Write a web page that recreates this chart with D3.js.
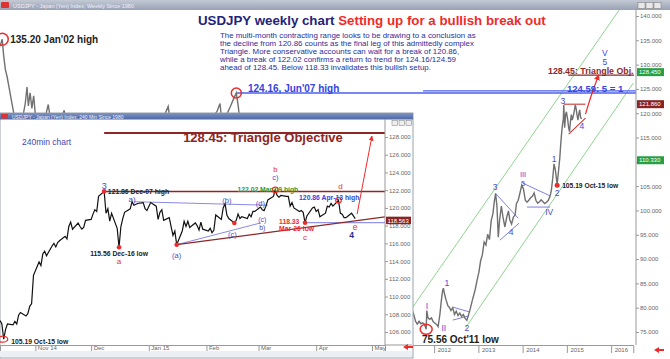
<!DOCTYPE html>
<html>
<head>
<meta charset="utf-8">
<script src="https://cdn.jsdelivr.net/npm/d3@7"></script>
<style>
  body { margin: 0; background: #fff; font-family: "Liberation Sans", Arial, sans-serif; }
  svg { display: block; }
  .tiny text { font-size: 6px; fill: #666; }
</style>
</head>
<body>
<div id="chart"></div>
<script>
/** DATA */
// weekly closes, decimal year
const weeklyYears = [2001.95, 2002.05, 2002.10, 2002.14, 2002.18, 2002.21, 2002.24, 2002.27, 2002.31, 2002.35, 2002.40, 2002.45, 2002.50, 2002.56, 2002.63, 2002.70, 2002.76, 2002.80, 2002.83, 2002.87, 2002.91, 2002.95, 2002.99, 2003.06, 2003.14, 2003.22, 2003.28, 2003.34, 2003.42, 2003.52, 2003.60, 2003.64, 2003.70, 2003.78, 2003.90, 2004.05, 2004.20, 2004.38, 2004.55, 2004.75, 2004.95, 2005.15, 2005.35, 2005.55, 2005.75, 2005.90, 2005.99, 2006.08, 2006.25, 2006.40, 2006.55, 2006.75, 2006.95, 2007.10, 2007.16, 2007.22, 2007.30, 2007.40, 2007.47, 2007.53, 2007.58, 2007.64, 2007.75, 2007.88, 2008.00, 2008.15, 2008.22, 2008.35, 2008.50, 2008.62, 2008.78, 2008.95, 2009.10, 2009.30, 2009.50, 2009.70, 2009.90, 2010.05, 2010.25, 2010.45, 2010.65, 2010.85, 2011.00, 2011.15, 2011.21, 2011.28, 2011.40,
  2011.50, 2011.54, 2011.58, 2011.62, 2011.66, 2011.70, 2011.74, 2011.78, 2011.82, 2011.835, 2011.86, 2011.90, 2011.94, 2011.98, 2012.02, 2012.06, 2012.09, 2012.13, 2012.16, 2012.19, 2012.21, 2012.24, 2012.27, 2012.31, 2012.35, 2012.38, 2012.42, 2012.46, 2012.50, 2012.54, 2012.58, 2012.62, 2012.66, 2012.70, 2012.74, 2012.78, 2012.82, 2012.86, 2012.89, 2012.93, 2012.97, 2013.01, 2013.05, 2013.09, 2013.13, 2013.17, 2013.21, 2013.25, 2013.29, 2013.33, 2013.36, 2013.39, 2013.42, 2013.45, 2013.48, 2013.52, 2013.56, 2013.60, 2013.64, 2013.68, 2013.71, 2013.75, 2013.79, 2013.83, 2013.86, 2013.90, 2013.94, 2013.98, 2014.02, 2014.06, 2014.10, 2014.14, 2014.18, 2014.22, 2014.26, 2014.30, 2014.34, 2014.38, 2014.42, 2014.46, 2014.50, 2014.54, 2014.58, 2014.62, 2014.65, 2014.68, 2014.71, 2014.74, 2014.78, 2014.81, 2014.84, 2014.86, 2014.88, 2014.90, 2014.92, 2014.93, 2014.95, 2014.97, 2014.99, 2015.02, 2015.04, 2015.06, 2015.08, 2015.10, 2015.12, 2015.14, 2015.17, 2015.19, 2015.21, 2015.23, 2015.25, 2015.27, 2015.29, 2015.31, 2015.33];
const weeklyClose = [126.5, 131.0, 132.5, 131.0, 133.8, 134.4, 135.2, 132.0, 129.0, 127.5, 125.0, 122.5, 120.0, 117.5, 116.0, 119.0, 122.0, 125.4, 121.5, 124.2, 121.0, 123.6, 119.5, 117.5, 118.8, 119.5, 121.8, 118.0, 116.5, 118.5, 119.5, 120.6, 117.0, 111.0, 108.5, 106.5, 108.0, 111.5, 110.5, 106.5, 103.0, 105.0, 108.0, 112.0, 114.0, 119.5, 121.4, 115.5, 117.5, 110.5, 116.5, 118.0, 118.5, 120.5, 122.0, 117.0, 119.5, 121.5, 123.0, 124.16, 121.0, 114.0, 115.5, 110.5, 109.0, 102.5, 97.5, 104.0, 107.5, 109.5, 96.0, 88.0, 93.0, 98.5, 95.0, 90.0, 87.0, 91.5, 93.5, 90.0, 85.0, 81.5, 82.5, 83.0, 77.5, 84.5, 80.5,
  79.5, 78.6, 77.2, 76.6, 77.2, 76.7, 76.9, 76.6, 75.56, 79.4, 77.9, 77.6, 77.9, 77.1, 76.8, 76.5, 76.1, 78.6, 81.2, 83.4, 84.0, 82.6, 81.6, 80.4, 80.0, 79.4, 80.0, 78.6, 79.3, 78.4, 78.9, 78.2, 78.6, 77.8, 77.4, 78.6, 79.9, 81.4, 82.4, 83.8, 85.6, 87.2, 89.6, 90.9, 93.5, 92.9, 95.1, 94.0, 97.9, 99.4, 101.8, 103.5, 100.8, 94.5, 98.1, 100.9, 98.4, 96.6, 98.6, 99.9, 98.1, 97.2, 98.6, 99.1, 101.4, 102.1, 103.6, 105.2, 104.4, 102.1, 101.7, 102.1, 102.6, 102.9, 103.6, 102.1, 101.5, 101.8, 102.2, 101.8, 101.4, 101.7, 102.1, 102.9, 104.2, 106.6, 109.6, 108.3, 105.4, 108.0, 110.8, 113.5, 115.8, 117.6, 118.8, 121.7, 117.0, 119.6, 120.3, 118.6, 117.0, 116.2, 118.2, 119.7, 118.6, 119.2, 120.6, 121.7, 120.9, 119.6, 118.6, 119.8, 120.7, 119.2, 118.8];

// 240 min chart, one close per session
const intradayDays = ["2014-10-13", "2014-10-14", "2014-10-15", "2014-10-16", "2014-10-17", "2014-10-20", "2014-10-21", "2014-10-22", "2014-10-23", "2014-10-24", "2014-10-27", "2014-10-28", "2014-10-29", "2014-10-30", "2014-10-31", "2014-11-03", "2014-11-04", "2014-11-05", "2014-11-06", "2014-11-07", "2014-11-10", "2014-11-11", "2014-11-12", "2014-11-13", "2014-11-14", "2014-11-17", "2014-11-18", "2014-11-19", "2014-11-20", "2014-11-21", "2014-11-24", "2014-11-25", "2014-11-26", "2014-11-27", "2014-11-28", "2014-12-01", "2014-12-02", "2014-12-03", "2014-12-04", "2014-12-05", "2014-12-08", "2014-12-09", "2014-12-10", "2014-12-11", "2014-12-12", "2014-12-15", "2014-12-16", "2014-12-17", "2014-12-18", "2014-12-19", "2014-12-22", "2014-12-23", "2014-12-24", "2014-12-26", "2014-12-29", "2014-12-30", "2014-12-31", "2015-01-02", "2015-01-05", "2015-01-06", "2015-01-07", "2015-01-08", "2015-01-09", "2015-01-12", "2015-01-13", "2015-01-14", "2015-01-15", "2015-01-16", "2015-01-19", "2015-01-20", "2015-01-21", "2015-01-22", "2015-01-23", "2015-01-26", "2015-01-27", "2015-01-28", "2015-01-29", "2015-01-30", "2015-02-02", "2015-02-03", "2015-02-04", "2015-02-05", "2015-02-06", "2015-02-09", "2015-02-10", "2015-02-11", "2015-02-12", "2015-02-13", "2015-02-16", "2015-02-17", "2015-02-18", "2015-02-19", "2015-02-20", "2015-02-23", "2015-02-24", "2015-02-25", "2015-02-26", "2015-02-27", "2015-03-02", "2015-03-03", "2015-03-04", "2015-03-05", "2015-03-06", "2015-03-09", "2015-03-10", "2015-03-11", "2015-03-12", "2015-03-13", "2015-03-16", "2015-03-17", "2015-03-18", "2015-03-19", "2015-03-20", "2015-03-23", "2015-03-24", "2015-03-25", "2015-03-26", "2015-03-27", "2015-03-30", "2015-03-31", "2015-04-01", "2015-04-02", "2015-04-03", "2015-04-06", "2015-04-07", "2015-04-08", "2015-04-09", "2015-04-10", "2015-04-13", "2015-04-14", "2015-04-15", "2015-04-16", "2015-04-17", "2015-04-20", "2015-04-21", "2015-04-22"];
const intradayClose = [107.3, 106.9, 105.19, 106.3, 106.9, 106.8, 107.2, 106.9, 107.9, 108.2, 107.8, 108.1, 108.9, 109.2, 112.4, 113.9, 113.5, 114.8, 115.1, 114.6, 115.7, 116.0, 115.6, 116.1, 116.3, 116.8, 116.5, 117.9, 118.4, 117.6, 118.3, 117.9, 117.6, 117.8, 118.6, 118.7, 119.3, 119.8, 119.6, 121.3, 121.86, 119.4, 119.9, 118.5, 119.4, 117.7, 115.56, 117.9, 118.8, 119.5, 119.9, 120.7, 120.3, 120.5, 120.6, 119.9, 119.7, 120.6, 120.2, 118.7, 119.5, 119.8, 118.6, 118.9, 117.9, 116.9, 117.4, 115.85, 117.4, 118.5, 117.9, 118.5, 117.8, 118.3, 118.0, 117.5, 118.4, 117.6, 117.4, 117.7, 117.2, 117.5, 119.2, 118.7, 120.0, 120.48, 119.2, 118.8, 118.3, 118.6, 119.3, 118.8, 119.0, 118.8, 119.3, 119.0, 119.6, 119.6, 120.1, 119.8, 119.7, 120.2, 120.9, 121.3, 122.02, 121.4, 121.2, 121.4, 121.3, 121.3, 120.2, 120.6, 120.0, 119.6, 119.7, 119.5, 118.33, 119.1, 120.0, 120.1, 119.6, 119.8, 119.0, 119.4, 120.2, 120.1, 120.5, 120.2, 120.86, 119.4, 119.3, 118.9, 118.9, 119.4, 119.1, 118.8];

// tick labels
const weeklyPriceTicks = [75, 80, 85, 90, 95, 100, 105, 110, 115, 120, 125, 130, 135, 140];
const weeklyYearTicks = [2012, 2013, 2014, 2015, 2016];
const intradayPriceTicks = [106, 108, 110, 112, 114, 116, 118, 120, 122, 124, 126, 128];
const monthTicks = ["2014-11-01", "2014-12-01", "2015-01-01", "2015-02-01", "2015-03-01", "2015-04-01", "2015-05-01"];
const monthLabels = ["Nov 14", "Dec", "Jan 15", "Feb", "Mar", "Apr", "May"];

const commentary = [
  "The multi-month contracting range looks to be drawing to a conclusion as",
  "the decline from 120.86 counts as the final leg of this admittedly complex",
  "Triangle. More conservative accounts can wait for a break of 120.86,",
  "while a break of 122.02 confirms a return to trend for 124.16/124.59",
  "ahead of 128.45. Below 118.33 invalidates this bullish setup."
];

/** CONSTANTS */
const width = 670, height = 359;
const RED = "#ee2b2b", DKRED = "#8e2626", WAVE = "#4a4ad0";
const parse = d3.timeParse("%Y-%m-%d");

/** SCALES */
const xW = d3.scaleLinear().domain([2011.5, 2016.5]).range([412, 633.25]);
const yW = d3.scaleLinear().domain([75, 140]).range([332, 16]);
const xI = d3.scaleTime().domain([parse("2014-10-13"), parse("2015-05-08")]).range([0, 385]);
const yI = d3.scaleLinear().domain([106, 128]).range([332, 137]);

const svg = d3.select("#chart").append("svg").attr("width", width).attr("height", height);
const defs = svg.append("defs");

defs.append("clipPath").attr("id", "clipW").append("rect")
  .attr("x", 0).attr("y", 10).attr("width", 636).attr("height", 335);
defs.append("clipPath").attr("id", "clipI").append("rect")
  .attr("x", 0).attr("y", 119).attr("width", 385).attr("height", 226);
defs.append("marker").attr("id", "arr").attr("viewBox", "0 0 10 10")
  .attr("refX", 9).attr("refY", 5).attr("markerWidth", 5).attr("markerHeight", 5)
  .attr("orient", "auto")
  .append("path").attr("d", "M0,0L10,5L0,10z").attr("fill", RED);

const gradTop = defs.append("linearGradient").attr("id", "gTop").attr("x1", 0).attr("x2", 0).attr("y1", 0).attr("y2", 1);
gradTop.append("stop").attr("offset", "0").attr("stop-color", "#c3c9d4");
gradTop.append("stop").attr("offset", "1").attr("stop-color", "#98a2b4");
const gradIn = defs.append("linearGradient").attr("id", "gIn").attr("x1", 0).attr("x2", 0).attr("y1", 0).attr("y2", 1);
gradIn.append("stop").attr("offset", "0").attr("stop-color", "#7d94c6");
gradIn.append("stop").attr("offset", "1").attr("stop-color", "#4d66a3");

svg.append("rect").attr("width", width).attr("height", height).attr("fill", "#fff");

// helper for annotation text
function label(g, x, y, str, color, size, bold, anchor) {
  return g.append("text").attr("x", x).attr("y", y)
    .attr("fill", color).attr("font-size", size)
    .attr("font-weight", bold ? "bold" : "normal")
    .attr("text-anchor", anchor || "start")
    .text(str);
}

/** WEEKLY CHART */
// window title bar
svg.append("rect").attr("x", 0).attr("y", 0).attr("width", width).attr("height", 10).attr("fill", "url(#gTop)");
svg.append("rect").attr("x", 1).attr("y", 2).attr("width", 8).attr("height", 6).attr("fill", "#d33").attr("rx", 1);
label(svg, 13, 7.5, "USDJPY - Japan (Yen) Index, Weekly  Since 1980", "#eef", 5.5, false);
[638, 646, 654].forEach(x => svg.append("rect").attr("x", x).attr("y", 2.5).attr("width", 7).attr("height", 6)
  .attr("fill", "#e8e8e8").attr("stroke", "#777").attr("stroke-width", 0.5));

const gW = svg.append("g").attr("clip-path", "url(#clipW)");
const weekly = weeklyYears.map((t, i) => ({ t, v: weeklyClose[i] }));

// channel lines
const green = "#8fd48f";
[[[2011.50, 79.9], [2016.18, 141.2]], [[2012.72, 76.0], [2016.5, 126.2]]].forEach(l =>
  gW.append("line").attr("x1", xW(l[0][0])).attr("y1", yW(l[0][1]))
    .attr("x2", xW(l[1][0])).attr("y2", yW(l[1][1]))
    .attr("stroke", green).attr("stroke-width", 1));

// horizontal levels
gW.append("line").attr("x1", xW(2007.53)).attr("x2", 636).attr("y1", yW(124.16)).attr("y2", yW(124.16))
  .attr("stroke", "#4d5ff0").attr("stroke-width", 1.4);
gW.append("line").attr("x1", xW(2011.75)).attr("x2", 636).attr("y1", yW(124.59)).attr("y2", yW(124.59))
  .attr("stroke", "#4d5ff0").attr("stroke-width", 1.4);
gW.append("line").attr("x1", xW(2015.03)).attr("x2", 634).attr("y1", yW(128.45) + 3).attr("y2", yW(128.45) + 3)
  .attr("stroke", DKRED).attr("stroke-width", 1.2);

// triangles
const triW = [
  [[2012.43, 80.1], [2012.81, 79.1]], [[2012.42, 77.45], [2012.78, 78.3]],
  [[2013.39, 103.5], [2013.90, 98.4]], [[2013.49, 93.9], [2013.92, 97.4]],
  [[2014.01, 105.6], [2014.62, 103.0]], [[2014.10, 100.7], [2014.62, 100.7]]
];
triW.forEach(l => gW.append("line").attr("x1", xW(l[0][0])).attr("y1", yW(l[0][1]))
  .attr("x2", xW(l[1][0])).attr("y2", yW(l[1][1])).attr("stroke", "#7f7fe0").attr("stroke-width", 1));
[[[2014.93, 121.86], [2015.42, 121.86]], [[2015.04, 115.7], [2015.42, 119.0]]].forEach(l =>
  gW.append("line").attr("x1", xW(l[0][0])).attr("y1", yW(l[0][1]))
    .attr("x2", xW(l[1][0])).attr("y2", yW(l[1][1])).attr("stroke", "#c83a3a").attr("stroke-width", 1.1));

// price
gW.append("path").datum(weekly)
  .attr("d", d3.line().x(d => xW(d.t)).y(d => yW(d.v)))
  .attr("fill", "none").attr("stroke", "#707070").attr("stroke-width", 1.4);

// projection arrow
gW.append("path").datum([[2015.42, 119.8], [2015.55, 123.6], [2015.72, 127.9]])
  .attr("d", d3.line().x(d => xW(d[0])).y(d => yW(d[1])).curve(d3.curveCatmullRom))
  .attr("fill", "none").attr("stroke", RED).attr("stroke-width", 1.2).attr("marker-end", "url(#arr)");

// markers
gW.append("circle").attr("cx", xW(2002.24)).attr("cy", yW(135.2)).attr("r", 6)
  .attr("fill", "none").attr("stroke", RED).attr("stroke-width", 1.5);
gW.append("circle").attr("cx", xW(2007.53)).attr("cy", yW(124.16)).attr("r", 5)
  .attr("fill", "none").attr("stroke", RED).attr("stroke-width", 1.5);
gW.append("ellipse").attr("cx", xW(2011.82)).attr("cy", yW(75.56)).attr("rx", 6).attr("ry", 5)
  .attr("fill", "none").attr("stroke", RED).attr("stroke-width", 1.5);
gW.append("circle").attr("cx", xW(2014.78)).attr("cy", yW(105.19)).attr("r", 2.5).attr("fill", RED);

// weekly wave labels
const wavesW = [
  ["I", 2011.84, 80.3, 8.5], ["II", 2012.22, 75.8, 8.5], ["1", 2012.29, 85.1, 8.5], ["2", 2012.74, 75.8, 8.5],
  ["3", 2013.38, 104.8, 8.5], ["4", 2013.74, 95.6, 8.5], ["III", 2014.01, 107.6, 7.5], ["5", 2014.01, 105.6, 7.5],
  ["IV", 2014.60, 99.7, 8.5], ["1", 2014.71, 110.6, 8.5], ["2", 2014.78, 103.6, 8.5], ["3", 2014.91, 122.6, 8.5],
  ["4", 2015.34, 117.4, 8.5], ["V", 2015.86, 132.4, 8.5], ["5", 2015.86, 130.5, 8.5]
];
wavesW.forEach(w => label(svg, xW(w[1]), yW(w[2]) + 3, w[0], WAVE, w[3], false, "middle"));

label(svg, xW(2002.24) + 8, yW(135.2) + 3.5, "135.20 Jan'02 high", "#222", 10, true);
label(svg, 248, yW(124.16) - 1.5, "124.16, Jun'07 high", "#3344e0", 10, true);
label(svg, 567, yW(124.59) + 1.5, "124.59: 5 = 1", "#3344e0", 9.5, true);
label(svg, 548, yW(128.45) + 2, "128.45: Triangle Obj.", DKRED, 8.8, true);
label(svg, xW(2014.78) + 5, yW(105.19) + 2.5, "105.19 Oct-15 low", "#222", 6.7, true);
label(svg, 422, 343, "75.56 Oct'11 low", "#222", 10, true);

// title + commentary
svg.append("text").attr("x", 198).attr("y", 25).attr("font-size", 13.3).attr("font-weight", "bold")
  .call(t => {
    t.append("tspan").attr("fill", "#23237a").text("USDJPY weekly chart ");
    t.append("tspan").attr("fill", RED).text("Setting up for a bullish break out");
  });
commentary.forEach((line, i) => label(svg, 220, 37.5 + i * 8, line, "#2d2d9a", 7.9, false));

// weekly right axis
const boxesW = [[128.45, "#27a045", "128.450"], [121.86, "#8a2424", "121.860"], [110.33, "#27a045", "110.330"]];
const axW = svg.append("g").attr("class", "tiny").attr("transform", "translate(636,0)")
  .call(d3.axisRight(yW).tickValues(weeklyPriceTicks).tickFormat(d3.format(".3f")).tickSize(3));
axW.select(".domain").attr("stroke", "#999").attr("d", "M0,10V345");
axW.selectAll(".tick line").attr("stroke", "#999");
axW.selectAll(".tick text").attr("x", 4);
// tick labels hidden behind the level boxes
axW.selectAll(".tick text").filter(d => boxesW.some(b => Math.abs(yW(b[0]) - yW(d)) < 7)).remove();

boxesW.forEach(b => {
  svg.append("rect").attr("x", 637).attr("y", yW(b[0]) - 4).attr("width", 27).attr("height", 8).attr("fill", b[1]);
  label(svg, 639, yW(b[0]) + 2, b[2], "#fff", 6, false);
});

// weekly bottom axis
const bxW = svg.append("g").attr("class", "tiny").attr("transform", "translate(0,345)")
  .call(d3.axisBottom(xW).tickValues(weeklyYearTicks).tickFormat(d3.format("d")).tickSize(8));
bxW.select(".domain").attr("stroke", "#999");
bxW.selectAll(".tick line").attr("stroke", "#999");
bxW.selectAll(".tick text").attr("text-anchor", "start").attr("x", 3).attr("y", 3).attr("font-size", 6.5);
svg.append("path").attr("d", "M654,350l5,-3v2h5v2h-5v2z").attr("fill", RED);

/** 240 MIN INSET */
svg.append("rect").attr("x", 0).attr("y", 113).attr("width", 413).attr("height", 245)
  .attr("fill", "#fff").attr("stroke", "#9aa0aa").attr("stroke-width", 1);
svg.append("rect").attr("x", 0).attr("y", 113).attr("width", 413).attr("height", 6.5).attr("fill", "url(#gIn)");
svg.append("rect").attr("x", 1).attr("y", 114).attr("width", 7).attr("height", 4.5).attr("fill", "#d33");
label(svg, 12, 118.5, "USDJPY - Japan (Yen) Index, 240 Min  Since 1980", "#eef", 5, false);
[392, 399, 406].forEach(x => svg.append("rect").attr("x", x).attr("y", 120.5).attr("width", 5.5).attr("height", 5)
  .attr("fill", "#eee").attr("stroke", "#777").attr("stroke-width", 0.5));
svg.append("rect").attr("x", 0).attr("y", 351).attr("width", 412).attr("height", 6).attr("fill", "#eceff3");

const gI = svg.append("g").attr("clip-path", "url(#clipI)");
const intraday = intradayDays.map((d, i) => ({ d: parse(d), v: intradayClose[i] }));
const P = (d, v) => [xI(parse(d)), yI(v)];
const segI = (a, b, color, w) => gI.append("line")
  .attr("x1", P(a[0], a[1])[0]).attr("y1", P(a[0], a[1])[1])
  .attr("x2", P(b[0], b[1])[0]).attr("y2", P(b[0], b[1])[1])
  .attr("stroke", color).attr("stroke-width", w);

segI(["2014-12-08", 128.45], ["2015-05-08", 128.45], DKRED, 2);
segI(["2014-12-08", 121.86], ["2015-05-08", 121.86], DKRED, 1.5);
segI(["2014-12-24", 120.7], ["2015-03-06", 120.3], "#8a8ae0", 1);
segI(["2015-01-16", 115.85], ["2015-03-02", 118.3], "#8a8ae0", 1);
segI(["2015-03-26", 118.33], ["2015-05-08", 118.33], "#7a7ae0", 1);
segI(["2015-01-16", 115.85], ["2015-05-08", 119.0], DKRED, 1.3);

gI.append("path").datum(intraday)
  .attr("d", d3.line().x(d => xI(d.d)).y(d => yI(d.v)))
  .attr("fill", "none").attr("stroke", "#111").attr("stroke-width", 1.2);

segI(["2015-04-23", 119.3], ["2015-05-01", 128.1], RED, 1).attr("marker-end", "url(#arr)");

// pivots
[["2014-12-08", 121.86], ["2014-12-16", 115.56], ["2015-01-16", 115.85], ["2015-02-16", 118.3], ["2015-03-26", 118.33]]
  .forEach(p => gI.append("circle").attr("cx", P(p[0], p[1])[0]).attr("cy", P(p[0], p[1])[1]).attr("r", 2.3).attr("fill", RED));
[["2015-03-10", 122.02], ["2015-04-13", 120.86]]
  .forEach(p => gI.append("circle").attr("cx", P(p[0], p[1])[0]).attr("cy", P(p[0], p[1])[1]).attr("r", 2.8)
    .attr("fill", "none").attr("stroke", RED).attr("stroke-width", 1.2));
gI.append("ellipse").attr("cx", P("2014-10-15", 105.19)[0] - 1).attr("cy", P("2014-10-15", 105.19)[1])
  .attr("rx", 5).attr("ry", 3).attr("fill", "none").attr("stroke", RED).attr("stroke-width", 1.3);

// inset labels [text, date, price, color, size, bold, anchor]
const labelsI = [
  ["3", "2014-12-08", 122.5, WAVE, 9, false, "middle"],
  ["a)", "2014-12-23", 121.0, WAVE, 8, false, "middle"],
  ["(b)", "2015-02-12", 120.85, WAVE, 7.5, false, "middle"],
  ["(d)", "2015-03-02", 120.55, WAVE, 7.5, false, "middle"],
  ["(c)", "2015-03-03", 118.75, WAVE, 7, false, "middle"],
  ["b)", "2015-03-03", 117.9, WAVE, 7, false, "middle"],
  ["(c)", "2015-02-15", 117.05, WAVE, 7.5, false, "middle"],
  ["(a)", "2015-01-16", 114.65, WAVE, 7.5, false, "middle"],
  ["a", "2014-12-16", 114.0, RED, 8, false, "middle"],
  ["b", "2015-03-10", 124.4, RED, 7.5, false, "middle"],
  ["c)", "2015-03-10", 123.45, WAVE, 7.5, false, "middle"],
  ["c", "2015-03-26", 116.7, RED, 8, false, "middle"],
  ["d", "2015-04-14", 122.45, RED, 8, false, "middle"],
  ["e", "2015-04-22", 117.9, RED, 8.5, false, "middle"],
  ["4", "2015-04-20", 117.0, "#2a2a90", 8.5, true, "middle"],
  ["121.86 Dec-07 high", "2014-12-10", 121.86, "#222", 6.8, true, "start"],
  ["115.56 Dec-16 low", "2014-12-16", 114.95, "#222", 6.8, true, "middle"],
  ["122.02 Mar-09 high", "2015-03-06", 122.15, "#2f9a2f", 6.8, true, "middle"],
  ["120.86 Apr-13 high", "2015-04-08", 121.2, "#3344e0", 6.8, true, "middle"],
  ["118.33", "2015-03-12", 118.55, RED, 6.8, true, "start"],
  ["Mar-26 low", "2015-03-12", 117.75, RED, 6.8, true, "start"],
  ["105.19 Oct-15 low", "2014-10-19", 104.95, "#222", 6.8, true, "start"]
];
labelsI.forEach(l => {
  const p = P(l[1], l[2]);
  label(svg, p[0], p[1] + 3, l[0], l[3], l[4], l[5], l[6]);
});
label(svg, 263, 141.5, "128.45: Triangle Objective", DKRED, 13, true, "middle");
label(svg, 22, 145, "240min chart", "#4646b0", 8.5, false);

// inset right axis
const axI = svg.append("g").attr("class", "tiny").attr("transform", "translate(385,0)")
  .call(d3.axisRight(yI).tickValues(intradayPriceTicks).tickFormat(d3.format(".3f")).tickSize(3));
axI.select(".domain").attr("stroke", "#999").attr("d", "M0,119V345");
axI.selectAll(".tick line").attr("stroke", "#999");
axI.selectAll(".tick text").attr("x", 4);
svg.append("rect").attr("x", 386).attr("y", yI(118.56) - 4).attr("width", 25).attr("height", 7.5).attr("fill", "#8a2424");
label(svg, 387.5, yI(118.56) + 2, "118.563", "#fff", 6, false);

// inset bottom axis
const bxI = svg.append("g").attr("class", "tiny").attr("transform", "translate(0,345)")
  .call(d3.axisBottom(xI).tickValues(monthTicks.map(parse)).tickFormat((d, i) => monthLabels[i]).tickSize(6));
bxI.select(".domain").attr("stroke", "#999");
bxI.selectAll(".tick line").attr("stroke", "#999");
bxI.selectAll(".tick text").attr("text-anchor", "start").attr("x", 2).attr("y", 1).attr("font-size", 6.5);
svg.append("line").attr("x1", 385).attr("x2", 412).attr("y1", 345).attr("y2", 345).attr("stroke", "#999");
svg.append("path").attr("d", "M403,347l5,-3v2h5v2h-5v2z").attr("fill", RED);
</script>
</body>
</html>
